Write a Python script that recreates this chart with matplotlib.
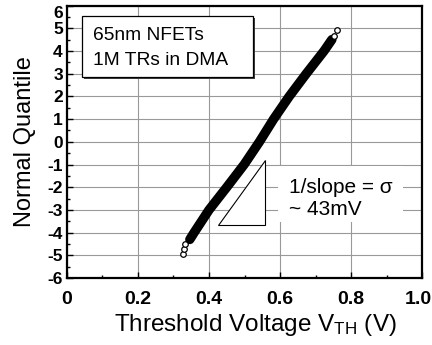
import matplotlib
matplotlib.use("Agg")
import matplotlib.pyplot as plt
from matplotlib.patches import Rectangle, Polygon
from matplotlib.ticker import MultipleLocator
from matplotlib.transforms import ScaledTranslation

plt.rcParams["font.family"] = ["Liberation Sans", "DejaVu Sans"]
plt.rcParams["mathtext.fontset"] = "custom"
plt.rcParams["mathtext.rm"] = "Liberation Sans"
plt.rcParams["mathtext.it"] = "Liberation Sans:italic"
plt.rcParams["axes.unicode_minus"] = False

# dense part of the normal-quantile band
band_vth = [0.346, 0.358, 0.400, 0.450, 0.499, 0.542, 0.582, 0.626, 0.674, 0.724, 0.746]
band_q = [-4.3, -4.0, -3.0, -2.0, -1.0, 0.0, 1.0, 2.0, 3.0, 4.0, 4.5]

# sparse tail points drawn as open circles
tail_vth = [0.328, 0.330, 0.332, 0.752, 0.760]
tail_q = [-4.92, -4.70, -4.50, 4.68, 4.92]

x_ticks = [0, 0.2, 0.4, 0.6, 0.8, 1.0]
x_labels = ["0", "0.2", "0.4", "0.6", "0.8", "1.0"]
y_ticks = list(range(-6, 7))

fig = plt.figure(figsize=(4.32, 3.45), dpi=100)
ax = fig.add_axes([0.155, 0.194, 0.822, 0.790])

ax.plot(band_vth, band_q, color="black", lw=6.8, solid_capstyle="round", zorder=3)
ax.plot(tail_vth, tail_q, "o", mfc="white", mec="black", ms=4, mew=0.9, zorder=4)

ax.set_xlim(0, 1.0)
ax.set_ylim(-6, 6)
ax.set_xticks(x_ticks)
ax.set_xticklabels(x_labels)
ax.set_yticks(y_ticks)
ax.xaxis.set_minor_locator(MultipleLocator(0.1))
ax.yaxis.set_minor_locator(MultipleLocator(0.5))
ax.tick_params(which="both", direction="in", width=1, top=False, right=False)
ax.tick_params(which="major", length=4)
ax.tick_params(which="minor", length=2)
ax.tick_params(axis="x", labelsize=14, pad=9)
ax.tick_params(axis="y", labelsize=12.5, pad=3)
for lab in ax.get_xticklabels() + ax.get_yticklabels():
    lab.set_fontweight("bold")

# nudge the edge labels inward like the original
top_tick = ax.yaxis.get_major_ticks()[-1].label1
top_tick.set_transform(top_tick.get_transform() + ScaledTranslation(0, -5 / 72, fig.dpi_scale_trans))
right_tick = ax.xaxis.get_major_ticks()[-1].label1
right_tick.set_transform(right_tick.get_transform() + ScaledTranslation(-3 / 72, 0, fig.dpi_scale_trans))

ax.grid(True, which="major", color="#999999", lw=0.8)
ax.set_axisbelow(True)
for s in ax.spines.values():
    s.set_linewidth(1.6)

ax.set_xlabel("Threshold Voltage V$_{\\mathrm{TH}}$ (V)", fontsize=17.5, labelpad=3)
ax.xaxis.label.set_x(0.53)
ax.set_ylabel("Normal Quantile", fontsize=17, labelpad=8)

# legend-like box with shadow
ax.add_patch(Rectangle((0.048, 2.76), 0.482, 2.69, facecolor="#404040",
                       edgecolor="none", zorder=5))
ax.add_patch(Rectangle((0.042, 2.85), 0.482, 2.69, facecolor="white",
                       edgecolor="black", lw=0.9, zorder=6))
ax.text(0.072, 4.48, "65nm NFETs", fontsize=13.8, va="baseline", zorder=7)
ax.text(0.072, 3.38, "1M TRs in DMA", fontsize=13.8, va="baseline", zorder=7)

# slope triangle
ax.add_patch(Polygon([(0.426, -3.67), (0.558, -3.67), (0.558, -0.81)],
                     closed=True, facecolor="white", edgecolor="black",
                     lw=0.8, zorder=5))

# sigma annotation on white background
ax.add_patch(Rectangle((0.594, -3.54), 0.352, 2.47, facecolor="white",
                       edgecolor="none", zorder=5))
ax.text(0.625, -2.27, "1/slope = σ", fontsize=15, va="baseline", zorder=7)
ax.text(0.625, -3.23, "~ 43mV", fontsize=15, va="baseline", zorder=7)

fig.savefig("out.png", dpi=100)
